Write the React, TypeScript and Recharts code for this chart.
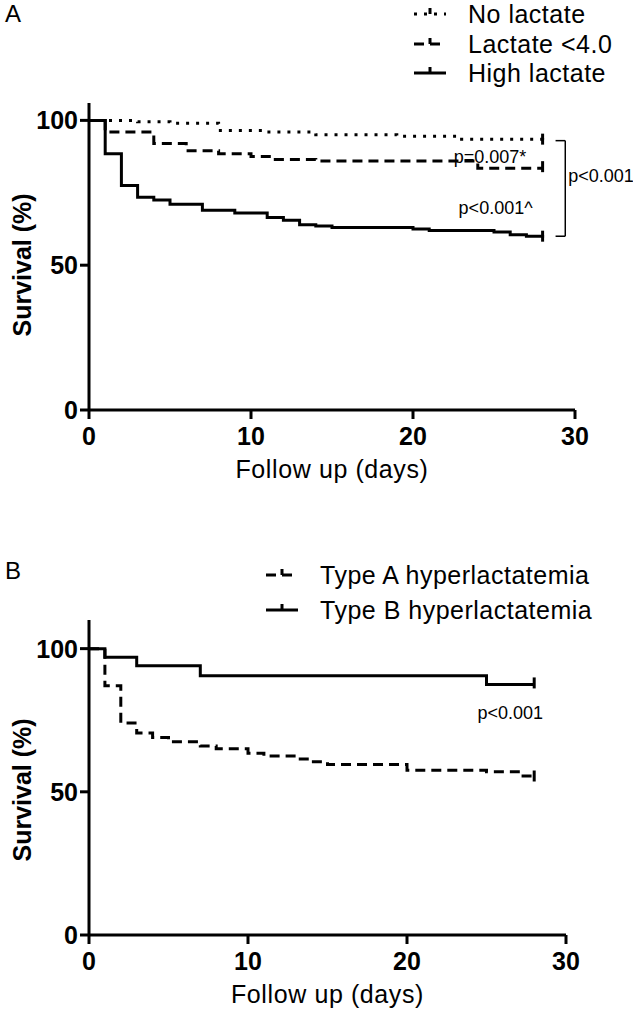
import { Line, LineChart, ReferenceDot, ReferenceLine, XAxis, YAxis } from 'recharts';

const xTicks = [0, 10, 20, 30];
const yTicks = [0, 50, 100];

// panel A
const noLactateDays = [0, 3, 5, 8, 11, 14, 19, 23, 28];
const noLactateSurv = [100, 99.5, 99, 96.5, 96, 95, 94.5, 93.5, 93];
const lowLactateDays = [0, 1, 4, 6, 8, 10, 11.5, 14, 24, 28];
const lowLactateSurv = [100, 96, 92, 89.5, 88.5, 87.5, 86.5, 86, 83.5, 83.5];
const highLactateDays = [0, 1, 2, 3, 4, 5, 7, 9, 11, 12, 13, 14, 15, 20, 21, 25, 26, 27, 28];
const highLactateSurv = [100, 88.5, 77.5, 73.5, 72.5, 71, 69, 68, 66.5, 65.5, 64, 63.5, 63, 62.5, 62, 61.5, 60.5, 60, 59.5];

// panel B
const typeADays = [0, 1, 2, 3, 4, 5, 7, 8, 10, 11, 13, 14, 15, 20, 25, 27, 28];
const typeASurv = [100, 87, 74, 70.5, 69, 67.5, 66, 65, 63.5, 62.5, 61.5, 60.5, 59.5, 57.5, 57, 55.5, 55];
const typeBDays = [0, 1, 3, 7, 25, 28];
const typeBSurv = [100, 97, 94, 90.5, 87.5, 87.5];

const legendA = ['No lactate', 'Lactate <4.0', 'High lactate'];
const legendB = ['Type A hyperlactatemia', 'Type B hyperlactatemia'];

const FONT = '"Liberation Sans", Arial, sans-serif';
const DOTTED = '3 7';
const DASHED = '10 6';

const rows = (days: number[], surv: number[]) => days.map((d, i) => ({ day: d, surv: surv[i] }));

// censor tick at the end of each curve
const endTick = (n: number) => (p: any) => {
  if (p.index !== n - 1) return <g key={`d${p.index}`} />;
  return (
    <line key={`d${p.index}`} x1={p.cx} x2={p.cx} y1={p.cy - 7} y2={p.cy + 4} stroke="#000" strokeWidth={3} />
  );
};

const tickStyle = { fill: '#000', fontSize: 25, fontWeight: 'bold' as const, fontFamily: FONT };

function LegendRow({ x, y, label, dash }: { x: number; y: number; label: string; dash?: string }) {
  return (
    <g>
      <line x1={x} x2={x + 32} y1={y} y2={y} stroke="#000" strokeWidth={3} strokeDasharray={dash} />
      <line x1={x + 16} x2={x + 16} y1={y - 6} y2={y} stroke="#000" strokeWidth={3} />
      <text x={x + 54} y={y + 9} fontSize={25} letterSpacing={0.5} fill="#000">
        {label}
      </text>
    </g>
  );
}

function YLabel({ y }: { y: number }) {
  return (
    <text
      x={22}
      y={y}
      transform={`rotate(-90 22 ${y})`}
      textAnchor="middle"
      dominantBaseline="central"
      fontSize={25}
      fontWeight="bold"
      fill="#000"
    >
      Survival (%)
    </text>
  );
}

function axes(domainTop: number) {
  return [
    <XAxis
      key="x"
      type="number"
      dataKey="day"
      domain={[0, 30]}
      ticks={xTicks}
      height={70}
      stroke="#000"
      strokeWidth={3}
      tickSize={9}
      tickMargin={8}
      tick={tickStyle}
      label={{ value: 'Follow up (days)', position: 'insideBottom', offset: 2, fill: '#000', fontSize: 25, letterSpacing: 0.6 }}
    />,
    <YAxis
      key="y"
      type="number"
      domain={[0, domainTop]}
      ticks={yTicks}
      width={60}
      stroke="#000"
      strokeWidth={3}
      tickSize={9}
      tickMargin={2}
      tick={tickStyle}
    />,
  ];
}

function PanelA() {
  return (
    <LineChart width={633} height={500} margin={{ top: 103, right: 58, bottom: 20, left: 29 }}>
      {axes(106)}
      <Line data={rows(noLactateDays, noLactateSurv)} dataKey="surv" type="stepAfter" stroke="#000" strokeWidth={3}
        strokeDasharray={DOTTED} dot={endTick(noLactateDays.length)} activeDot={false} isAnimationActive={false} />
      <Line data={rows(lowLactateDays, lowLactateSurv)} dataKey="surv" type="stepAfter" stroke="#000" strokeWidth={3}
        strokeDasharray={DASHED} dot={endTick(lowLactateDays.length)} activeDot={false} isAnimationActive={false} />
      <Line data={rows(highLactateDays, highLactateSurv)} dataKey="surv" type="stepAfter" stroke="#000" strokeWidth={3}
        dot={endTick(highLactateDays.length)} activeDot={false} isAnimationActive={false} />
      <ReferenceLine segment={[{ x: 28.8, y: 93 }, { x: 29.4, y: 93 }]} stroke="#000" strokeWidth={1.5} ifOverflow="visible" />
      <ReferenceLine segment={[{ x: 29.4, y: 93 }, { x: 29.4, y: 60 }]} stroke="#000" strokeWidth={1.5} ifOverflow="visible" />
      <ReferenceLine segment={[{ x: 28.8, y: 60 }, { x: 29.4, y: 60 }]} stroke="#000" strokeWidth={1.5} ifOverflow="visible" />
      <ReferenceDot x={24.75} y={87.5} r={0} fill="none" stroke="none" ifOverflow="visible"
        label={{ value: 'p=0.007*', position: 'center', fontSize: 18, fill: '#000' }} />
      <ReferenceDot x={25.1} y={70} r={0} fill="none" stroke="none" ifOverflow="visible"
        label={{ value: 'p<0.001^', position: 'center', fontSize: 18, fill: '#000' }} />
      <ReferenceDot x={31.6} y={81} r={0} fill="none" stroke="none" ifOverflow="visible"
        label={{ value: 'p<0.001', position: 'center', fontSize: 18, fill: '#000' }} />
      <text x={5} y={22} fontSize={24} fill="#000">A</text>
      <YLabel y={265} />
      <LegendRow x={414} y={14} label={legendA[0]} dash={DOTTED} />
      <LegendRow x={414} y={44} label={legendA[1]} dash={DASHED} />
      <LegendRow x={414} y={73} label={legendA[2]} />
    </LineChart>
  );
}

function PanelB() {
  return (
    <LineChart width={633} height={511} margin={{ top: 120, right: 67, bottom: 6, left: 29 }}>
      {axes(110)}
      <Line data={rows(typeADays, typeASurv)} dataKey="surv" type="stepAfter" stroke="#000" strokeWidth={3}
        strokeDasharray={DASHED} dot={endTick(typeADays.length)} activeDot={false} isAnimationActive={false} />
      <Line data={rows(typeBDays, typeBSurv)} dataKey="surv" type="stepAfter" stroke="#000" strokeWidth={3}
        dot={endTick(typeBDays.length)} activeDot={false} isAnimationActive={false} />
      <ReferenceDot x={26.5} y={77.6} r={0} fill="none" stroke="none" ifOverflow="visible"
        label={{ value: 'p<0.001', position: 'center', fontSize: 18, fill: '#000' }} />
      <text x={5} y={79} fontSize={24} fill="#000">B</text>
      <YLabel y={290} />
      <LegendRow x={266} y={75} label={legendB[0]} dash={DASHED} />
      <LegendRow x={266} y={110} label={legendB[1]} />
    </LineChart>
  );
}

export default function App() {
  return (
    <div style={{ position: 'absolute', left: 0, top: 0, width: 633, height: 1011, background: '#fff', fontFamily: FONT }}>
      <div style={{ position: 'absolute', left: 0, top: 0 }}>
        <PanelA />
      </div>
      <div style={{ position: 'absolute', left: 0, top: 500 }}>
        <PanelB />
      </div>
    </div>
  );
}
